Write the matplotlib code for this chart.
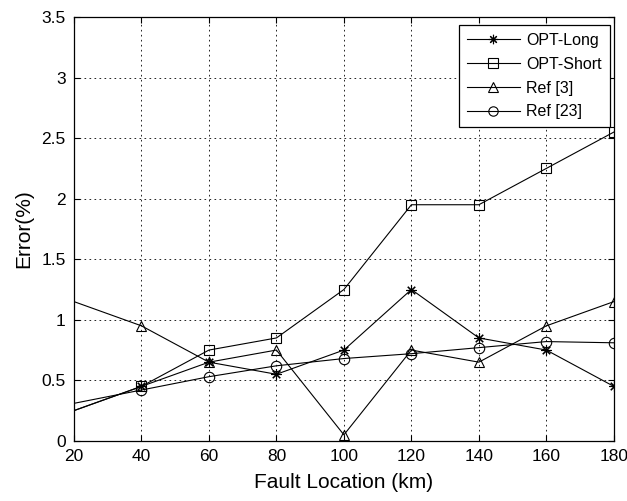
import matplotlib.pyplot as plt

plt.rcParams['font.family'] = ['Liberation Sans', 'DejaVu Sans']

location = [20, 40, 60, 80, 100, 120, 140, 160, 180]
opt_long = [0.25, 0.45, 0.65, 0.55, 0.75, 1.25, 0.85, 0.75, 0.45]
opt_short = [0.25, 0.45, 0.75, 0.85, 1.25, 1.95, 1.95, 2.25, 2.55]
ref3 = [1.15, 0.95, 0.65, 0.75, 0.05, 0.75, 0.65, 0.95, 1.15]
ref23 = [0.31, 0.42, 0.53, 0.62, 0.68, 0.72, 0.77, 0.82, 0.81]

fig = plt.figure(figsize=(6.27, 5.01), dpi=100)
ax = fig.add_axes([0.118, 0.12, 0.861, 0.846])

style = dict(color='black', lw=0.8, mfc='none', mew=0.8, markevery=slice(1, None))
ax.plot(location, opt_long, marker=(8, 2, 0), ms=7.5, label='OPT-Long', **style)
ax.plot(location, opt_short, marker='s', ms=7.5, label='OPT-Short', **style)
ax.plot(location, ref3, marker='^', ms=7.5, label='Ref [3]', **style)
ax.plot(location, ref23, marker='o', ms=7.5, label='Ref [23]', **style)

ax.set_xlim(20, 180)
ax.set_ylim(0, 3.5)
ax.set_xticks(location)
ax.set_yticks([0, 0.5, 1, 1.5, 2, 2.5, 3, 3.5])
ax.set_yticklabels(['0', '0.5', '1', '1.5', '2', '2.5', '3', '3.5'])
ax.tick_params(direction='in', top=True, right=True, labelsize=12.5, length=4, pad=6)
ax.grid(True, color='black', linestyle=(0, (2, 4)), lw=0.6)
for s in ax.spines.values():
    s.set_linewidth(0.9)

ax.set_xlabel('Fault Location (km)', fontsize=15, labelpad=6)
ax.set_ylabel('Error(%)', fontsize=15, labelpad=6)

leg = ax.legend(loc='upper right', bbox_to_anchor=(0.9926, 0.981), borderaxespad=0,
                fontsize=11.5, handlelength=3.3, handletextpad=0.4, fancybox=False,
                edgecolor='black', framealpha=1, labelspacing=0.55, borderpad=0.5,
                markerscale=0.9)
leg.get_frame().set_linewidth(0.9)

fig.savefig('out.png', dpi=100)
